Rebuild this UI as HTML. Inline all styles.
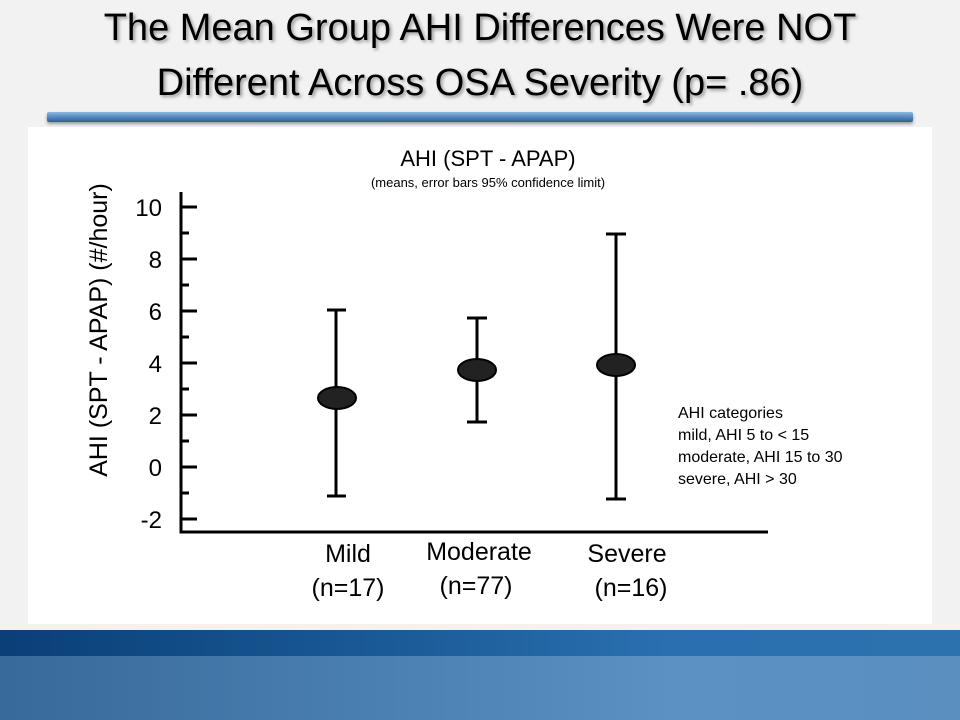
<!DOCTYPE html>
<html><head><meta charset="utf-8"><style>
body{margin:0;width:960px;height:720px;overflow:hidden;background:#f2f2f2;font-family:"Liberation Sans",sans-serif;position:relative}
.t{position:absolute;left:0;width:960px;text-align:center;font-size:38px;color:#000;text-shadow:2px 2px 3px #999;line-height:44px}
</style></head><body>
<div class="t" style="top:6px">The Mean Group AHI Differences Were NOT</div>
<div class="t" style="top:61px">Different Across OSA Severity (p= .86)</div>
<div style="position:absolute;left:47px;top:112px;width:866px;height:10px;background:linear-gradient(#8fb8e0,#5b8ec4 45%,#2f5f90);border-radius:2px;box-shadow:0 2px 3px #999"></div>
<div style="position:absolute;left:28px;top:127px;width:904px;height:497px;background:#fff"></div>
<div style="position:absolute;left:0;top:630px;width:960px;height:26px;background:linear-gradient(90deg,#0a3f78,#1a5a96 40%,#2a70b0 70%,#2c72ae)"></div>
<div style="position:absolute;left:0;top:656px;width:960px;height:64px;background:linear-gradient(90deg,#386a9a,#4a80b2 40%,#5a92c4 70%,#5a8fc0)"></div>
<svg width="960" height="720" style="position:absolute;left:0;top:0" font-family="Liberation Sans, sans-serif">
<text x="488" y="166" font-size="22" text-anchor="middle">AHI (SPT - APAP)</text>
<text x="488" y="187" font-size="13" text-anchor="middle">(means, error bars 95% confidence limit)</text>
<text transform="translate(107,330) rotate(-90)" font-size="25" text-anchor="middle">AHI (SPT - APAP) (#/hour)</text>
<g stroke="#000" stroke-width="3" fill="none">
<path d="M181 192V532H768"/>
<path d="M181 207h16M181 233h8M181 259h16M181 285h8M181 311h16M181 337h8M181 363h16M181 389h8M181 415h16M181 441h8M181 467h16M181 493h8M181 519h16"/>
<path d="M336 310V496M327 310h19M327 496h19"/>
<path d="M477 318V422M467 318h20M467 422h20"/>
<path d="M616 234V499M606 234h20M606 499h20"/>
</g>
<g fill="#222" stroke="#000" stroke-width="2">
<ellipse cx="337" cy="398" rx="19" ry="11"/>
<ellipse cx="477" cy="370" rx="19" ry="11"/>
<ellipse cx="616" cy="365" rx="19" ry="11"/>
</g>
<g font-size="24" text-anchor="end">
<text x="162" y="216">10</text><text x="162" y="268">8</text><text x="162" y="320">6</text><text x="162" y="372">4</text><text x="162" y="424">2</text><text x="162" y="476">0</text><text x="162" y="528">-2</text>
</g>
<g font-size="25" text-anchor="middle">
<text x="348" y="562">Mild</text><text x="348" y="596">(n=17)</text>
<text x="479" y="560">Moderate</text><text x="476" y="594">(n=77)</text>
<text x="627" y="562">Severe</text><text x="631" y="596">(n=16)</text>
</g>
<g font-size="16" style="white-space:pre">
<text x="678" y="418">AHI categories</text>
<text x="678" y="440">mild, AHI 5 to &lt; 15</text>
<text x="678" y="462">moderate, AHI  15 to  30</text>
<text x="678" y="484">severe,   AHI  &gt; 30</text>
</g>
</svg>
</body></html>
